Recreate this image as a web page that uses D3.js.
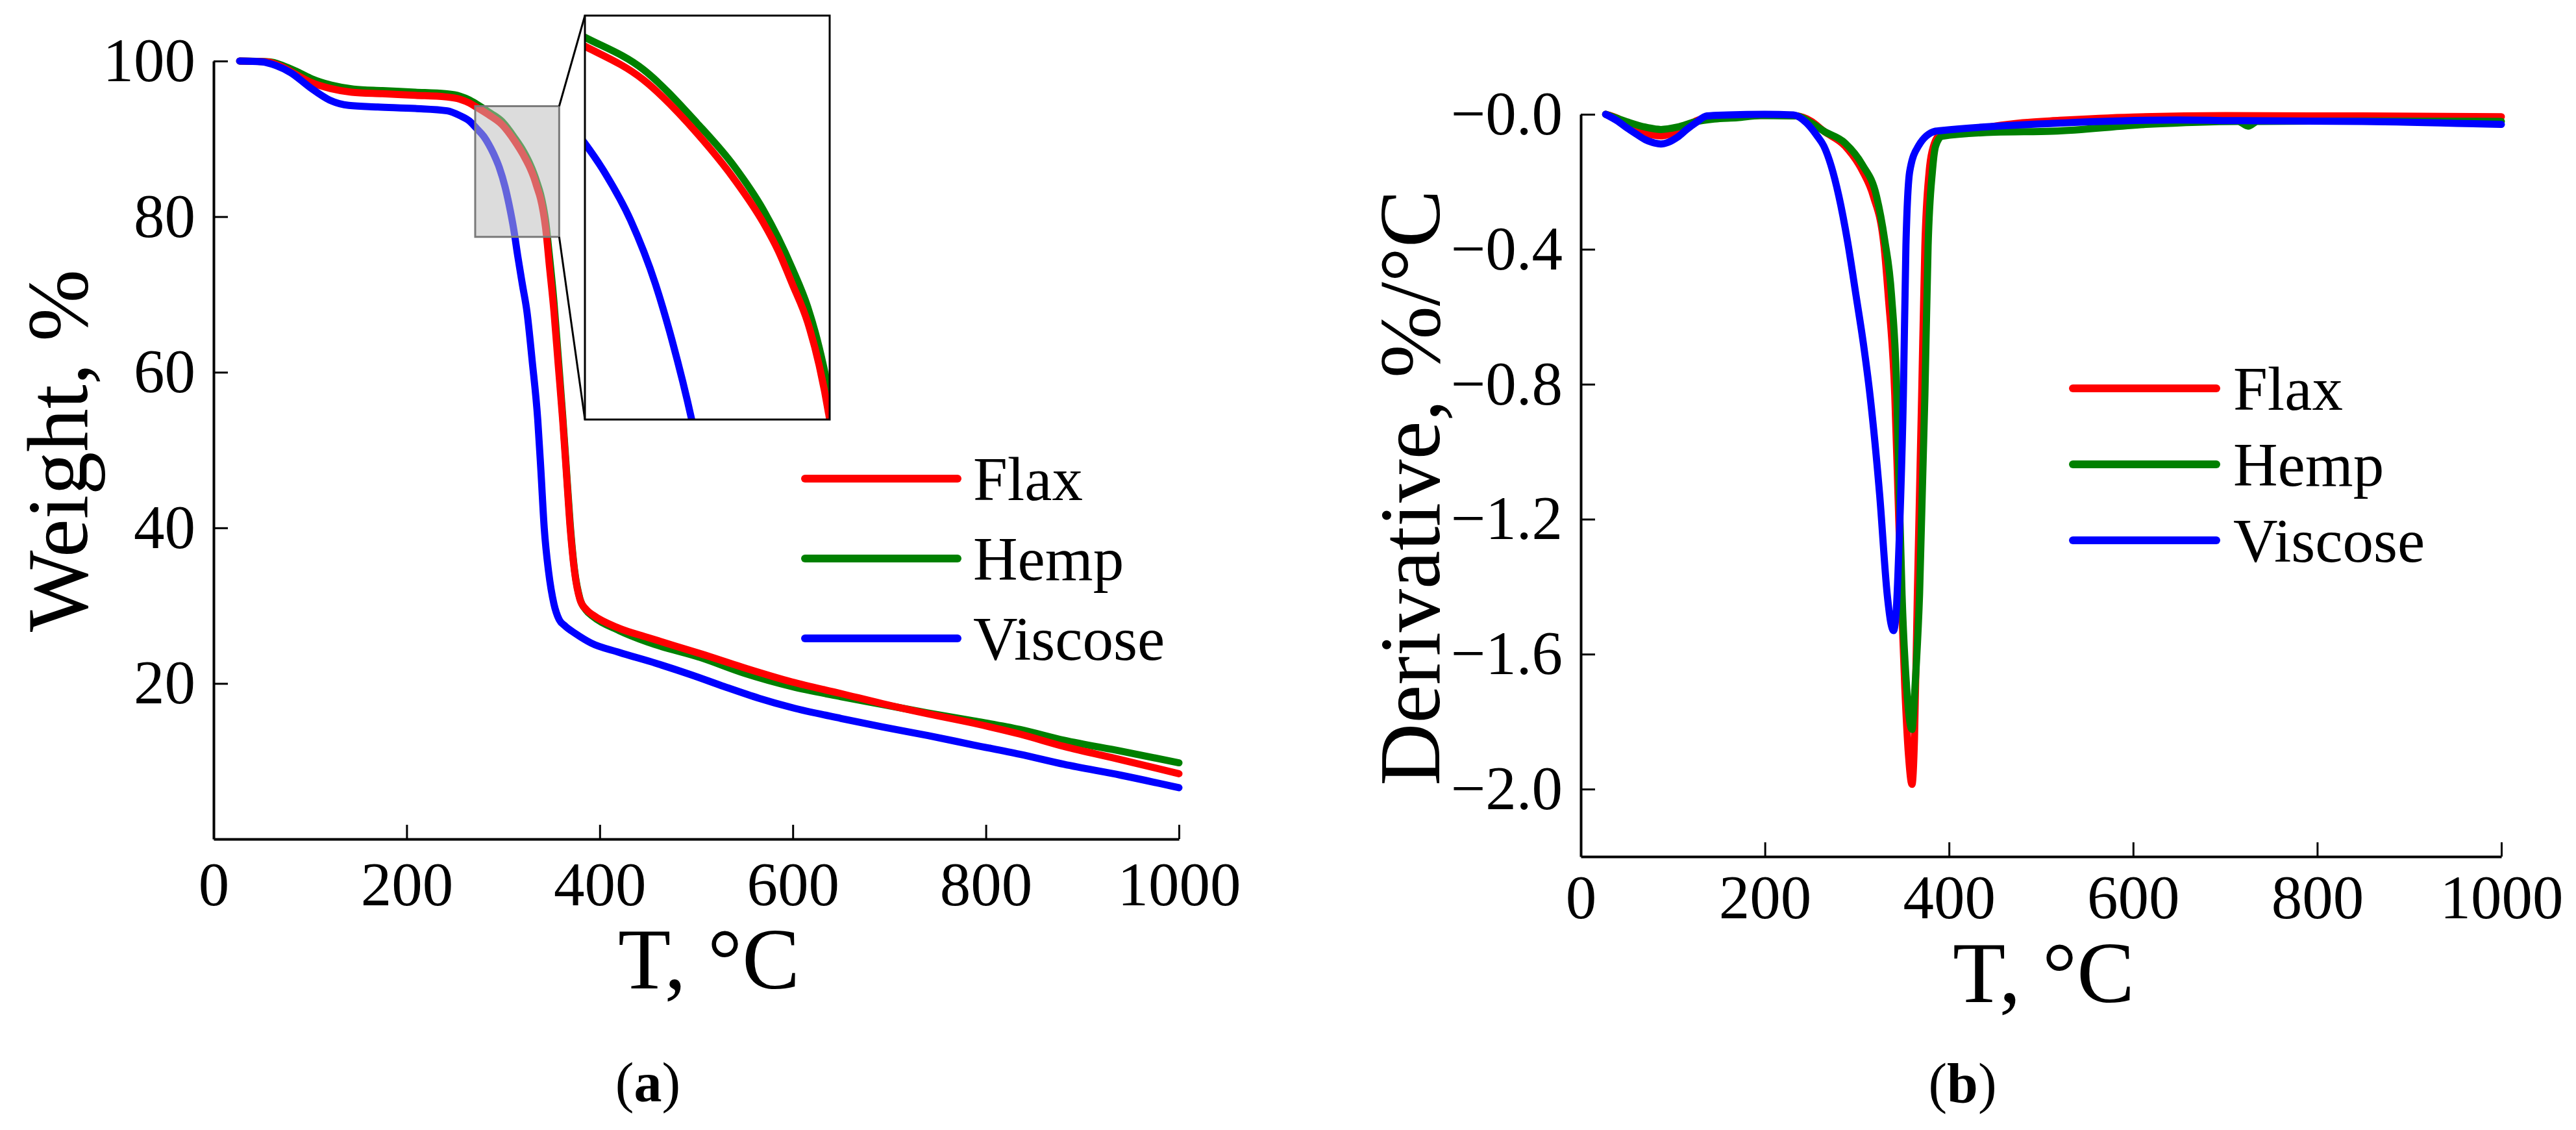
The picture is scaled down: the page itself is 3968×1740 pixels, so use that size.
<!DOCTYPE html>
<html>
<head>
<meta charset="utf-8">
<style>
body { margin: 0; background: #fff; }
svg { display: block; background: #fff; }
svg text { font-family: "Liberation Serif", "Times New Roman", "DejaVu Serif", serif; fill: #000; }
.axis .domain { stroke: #000; stroke-width: 4; }
.axis .tick line { stroke: #000; stroke-width: 3; }
.axis .tick text { font-size: 95px; }
.title { font-size: 133px; }
.legend text { font-size: 95px; }
.curve { fill: none; stroke-width: 11; stroke-linejoin: round; stroke-linecap: round; }
</style>
</head>
<body>
<svg id="chart" width="3968" height="1740"></svg>
<script src="https://cdnjs.cloudflare.com/ajax/libs/d3/7.8.5/d3.min.js"></script>
<script>
// ---- data ----
var series = ['Flax', 'Hemp', 'Viscose']
var colors = ['#ff0000', '#008000', '#0000ff']

// (a) weight %, [T, W]
var flaxWeight = [[27,100],[55,99.9],[70,99.3],[85,98.3],[100,97.3],[120,96.5],[143,96.0],[175,95.8],[209,95.6],
  [240,95.4],[255,95.1],[265,94.6],[272,94.1],[285,93.1],[299,91.8],[312,89.7],[321,87.9],[328,86.2],[331.6,85.1],
  [335,83.8],[338.7,82.3],[341.5,80.6],[344,78.5],[348,73.5],[352.6,67.8],[357,61],[361.6,53.9],[365.5,47],
  [369.4,40],[373.9,34.4],[379.5,30.8],[386,29.5],[393,28.8],[420,27.1],[450,25.9],[505,23.8],[550,22.0],
  [599,20.2],[650,18.7],[693,17.4],[740,16.1],[787,14.9],[835,13.5],[881,11.9],[940,10.2],[1000,8.4]]
var hempWeight = [[27,100],[58,99.9],[72,99.4],[87,98.6],[102,97.7],[122,96.9],[145,96.4],[175,96.2],[209,96.0],
  [240,95.8],[255,95.5],[265,95.0],[272,94.5],[285,93.45],[299,92.2],[312,90.1],[321,88.4],[328,86.7],[331.6,85.6],
  [335,84.4],[338.7,82.9],[341.5,81.3],[344,79.4],[347,76],[352.6,69],[357,62],[361.6,54.5],[365.5,47.5],
  [369.4,40.5],[373.9,34.6],[379.5,30.9],[386,29.4],[393,28.6],[420,26.8],[450,25.3],[505,23.3],[550,21.3],
  [599,19.6],[650,18.3],[693,17.3],[740,16.2],[787,15.2],[835,14.1],[881,12.7],[940,11.3],[1000,9.8]]
var viscoseWeight = [[27,100],[50,99.9],[65,99.4],[80,98.5],[100,96.6],[120,95.0],[140,94.3],[170,94.1],[209,93.9],
  [242,93.6],[255,93.0],[265,92.3],[272,91.4],[280,90.3],[285,89.3],[290,88.1],[296,86.3],[302,83.8],[306,81.6],
  [311,78.3],[315,75],[320,71.2],[324.6,67.8],[330,61.5],[335.8,53.9],[339,47.5],[342.5,40],[347,34.4],
  [352.6,30.2],[358,28.2],[364,27.4],[375,26.4],[391,25.2],[420,24.0],[458,22.6],[495,21.1],[529,19.6],
  [565,18.1],[599,16.9],[650,15.5],[693,14.4],[740,13.3],[787,12.1],[835,10.9],[881,9.6],[940,8.2],[1000,6.6]]

// (b) derivative %/°C, [T, D]
var flaxDeriv = [[27,0],[40,-0.012],[50,-0.03],[60,-0.045],[70,-0.056],[80,-0.062],[87,-0.064],[95,-0.06],
  [105,-0.05],[115,-0.035],[125,-0.02],[137,-0.01],[160,-0.008],[185,-0.004],[210,-0.003],[234,-0.005],
  [250,-0.02],[264,-0.05],[287,-0.094],[306,-0.168],[317.7,-0.242],[329.4,-0.39],[334,-0.538],[341.1,-0.833],
  [344.6,-1.129],[348.1,-1.424],[352,-1.7],[356,-1.9],[359.8,-1.986],[362.5,-1.85],[365.6,-1.424],[370.3,-0.833],
  [373.8,-0.39],[378.5,-0.168],[383.2,-0.094],[390,-0.062],[420,-0.05],[450,-0.035],[480,-0.025],[520,-0.018],
  [600,-0.008],[700,-0.004],[850,-0.005],[1000,-0.007]]
var hempDeriv = [[27,0],[50,-0.022],[70,-0.038],[87,-0.045],[105,-0.038],[125,-0.022],[145,-0.014],[170,-0.01],
  [195,-0.004],[234,-0.005],[250,-0.025],[264,-0.05],[287,-0.085],[306,-0.15],[321.2,-0.242],[330,-0.37],
  [337.6,-0.538],[343.4,-0.833],[346,-1.129],[349,-1.424],[354,-1.7],[359.8,-1.823],[363,-1.7],[368,-1.424],
  [373.8,-0.833],[377.3,-0.39],[382,-0.168],[385.5,-0.094],[392.5,-0.065],[450,-0.053],[513,-0.05],[614,-0.03],
  [714,-0.021],[725,-0.035],[735,-0.021],[850,-0.02],[1000,-0.021]]
var viscoseDeriv = [[27,0],[40,-0.02],[50,-0.04],[60,-0.058],[70,-0.075],[80,-0.085],[87,-0.088],[95,-0.083],
  [105,-0.068],[115,-0.045],[125,-0.025],[137,-0.005],[160,-0.002],[200,0],[231,-0.002],[245,-0.025],
  [257,-0.065],[264,-0.094],[280.3,-0.242],[290,-0.38],[299,-0.537],[307,-0.68],[314.2,-0.833],[324.7,-1.129],
  [332.9,-1.424],[337,-1.51],[339.7,-1.53],[342.5,-1.48],[345.7,-1.277],[350.4,-0.833],[353.2,-0.39],
  [357.4,-0.168],[366.8,-0.094],[385.5,-0.05],[392,-0.048],[513,-0.027],[647,-0.017],[715,-0.019],
  [849,-0.021],[1000,-0.03]]

var tempTicks = [0, 200, 400, 600, 800, 1000]
var weightTicks = [20, 40, 60, 80, 100]
var derivTicks = [0, -0.4, -0.8, -1.2, -1.6, -2.0]
var zoomBox = {t0: 271, t1: 358, w0: 77.4, w1: 94.2}     // grey box on the main plot
var insetDomain = {t0: 285, t1: 344, w0: 78.5, w1: 94.3} // what the inset shows

var FONT = '"Liberation Serif", "Times New Roman", "DejaVu Serif", serif'
var svg = d3.select('#chart')

function styleAxis(g) {
  g.attr('font-family', FONT).attr('font-size', 95)
  g.selectAll('text').attr('font-family', FONT)
}

// ---- panel (a) ----
var xL = d3.scaleLinear().domain([0, 1000]).range([329, 1816])
var yL = d3.scaleLinear().domain([0, 100]).range([1292, 94])

svg.append('g').attr('class', 'axis')
  .attr('transform', 'translate(0,' + yL(0) + ')')
  .call(d3.axisBottom(xL).tickValues(tempTicks).tickFormat(d3.format('d'))
    .tickSizeInner(-22).tickSizeOuter(0).tickPadding(35))
  .call(styleAxis)
svg.append('g').attr('class', 'axis')
  .attr('transform', 'translate(' + xL(0) + ',0)')
  .call(d3.axisLeft(yL).tickValues(weightTicks).tickFormat(d3.format('d'))
    .tickSizeInner(-22).tickSizeOuter(0).tickPadding(28))
  .call(styleAxis)

var weightData = [flaxWeight, hempWeight, viscoseWeight]
var lineL = d3.line().x(d => xL(d[0])).y(d => yL(d[1])).curve(d3.curveMonotoneX)
;[1, 0, 2].forEach(function(i) {
  svg.append('path').attr('class', 'curve')
    .attr('d', lineL(weightData[i])).style('stroke', colors[i])
})

// grey zoom box
var bx0 = xL(zoomBox.t0), bx1 = xL(zoomBox.t1), by0 = yL(zoomBox.w1), by1 = yL(zoomBox.w0)
svg.append('rect')
  .attr('x', bx0).attr('y', by0).attr('width', bx1 - bx0).attr('height', by1 - by0)
  .style('fill', 'rgb(189,189,189)').style('fill-opacity', 0.53)
  .style('stroke', '#7a7a7a').style('stroke-width', 3)

// inset
var inset = {left: 901, right: 1278, top: 24, bottom: 646}
var xI = d3.scaleLinear().domain([insetDomain.t0, insetDomain.t1]).range([inset.left, inset.right])
var yI = d3.scaleLinear().domain([insetDomain.w0, insetDomain.w1]).range([inset.bottom, inset.top])

svg.append('line').attr('x1', bx1).attr('y1', by0).attr('x2', inset.left).attr('y2', inset.top)
  .style('stroke', '#000').style('stroke-width', 3)
svg.append('line').attr('x1', bx1).attr('y1', by1).attr('x2', inset.left).attr('y2', inset.bottom)
  .style('stroke', '#000').style('stroke-width', 3)

svg.append('clipPath').attr('id', 'insetClip').append('rect')
  .attr('x', inset.left).attr('y', inset.top)
  .attr('width', inset.right - inset.left).attr('height', inset.bottom - inset.top)
svg.append('rect')
  .attr('x', inset.left).attr('y', inset.top)
  .attr('width', inset.right - inset.left).attr('height', inset.bottom - inset.top)
  .style('fill', '#fff')
var lineI = d3.line().x(d => xI(d[0])).y(d => yI(d[1])).curve(d3.curveMonotoneX)
var insetG = svg.append('g').attr('clip-path', 'url(#insetClip)')
;[1, 0, 2].forEach(function(i) {
  insetG.append('path').attr('class', 'curve')
    .attr('d', lineI(weightData[i])).style('stroke', colors[i])
})
svg.append('rect')
  .attr('x', inset.left).attr('y', inset.top)
  .attr('width', inset.right - inset.left).attr('height', inset.bottom - inset.top)
  .style('fill', 'none').style('stroke', '#000').style('stroke-width', 3)

// legend (a)
var legA = svg.append('g').attr('class', 'legend')
series.forEach(function(s, i) {
  var y = 737 + i * 123
  legA.append('line').attr('x1', 1240).attr('x2', 1475).attr('y1', y).attr('y2', y)
    .style('stroke', colors[i]).style('stroke-width', 12).style('stroke-linecap', 'round')
  legA.append('text').attr('x', 1499).attr('y', y).attr('dy', '0.35em')
    .attr('font-family', FONT).text(s)
})

svg.append('text').attr('class', 'title').attr('font-family', FONT)
  .attr('transform', 'translate(134,694) rotate(-90)')
  .attr('text-anchor', 'middle').text('Weight, %')
svg.append('text').attr('class', 'title').attr('font-family', FONT)
  .attr('x', 1092).attr('y', 1522).attr('text-anchor', 'middle').text('T, °C')
svg.append('text').attr('x', 998).attr('y', 1696).attr('text-anchor', 'middle')
  .attr('font-family', FONT).style('font-size', '86px')
  .html('(<tspan style="font-weight:bold">a</tspan>)')

// ---- panel (b) ----
var xR = d3.scaleLinear().domain([0, 1000]).range([2435, 3853])
var yR = d3.scaleLinear().domain([-2.2, 0]).range([1319, 176])

svg.append('g').attr('class', 'axis')
  .attr('transform', 'translate(0,' + yR(-2.2) + ')')
  .call(d3.axisBottom(xR).tickValues(tempTicks).tickFormat(d3.format('d'))
    .tickSizeInner(-22).tickSizeOuter(0).tickPadding(28))
  .call(styleAxis)
svg.append('g').attr('class', 'axis')
  .attr('transform', 'translate(' + xR(0) + ',0)')
  .call(d3.axisLeft(yR).tickValues(derivTicks).tickSizeInner(-22).tickSizeOuter(0).tickPadding(28)
    .tickFormat(d => '\u2212' + Math.abs(d).toFixed(1)))
  .call(styleAxis)

var derivData = [flaxDeriv, hempDeriv, viscoseDeriv]
var lineR = d3.line().x(d => xR(d[0])).y(d => yR(d[1])).curve(d3.curveMonotoneX)
;[0, 1, 2].forEach(function(i) {
  svg.append('path').attr('class', 'curve')
    .attr('d', lineR(derivData[i])).style('stroke', colors[i])
})

var legB = svg.append('g').attr('class', 'legend')
series.forEach(function(s, i) {
  var y = 598 + i * 117
  legB.append('line').attr('x1', 3193).attr('x2', 3414).attr('y1', y).attr('y2', y)
    .style('stroke', colors[i]).style('stroke-width', 12).style('stroke-linecap', 'round')
  legB.append('text').attr('x', 3440).attr('y', y).attr('dy', '0.35em')
    .attr('font-family', FONT).text(s)
})

svg.append('text').attr('class', 'title').attr('font-family', FONT)
  .attr('transform', 'translate(2217,751) rotate(-90)')
  .attr('text-anchor', 'middle').text('Derivative, %/°C')
svg.append('text').attr('class', 'title').attr('font-family', FONT)
  .attr('x', 3148).attr('y', 1543).attr('text-anchor', 'middle').text('T, °C')
svg.append('text').attr('x', 3023).attr('y', 1697).attr('text-anchor', 'middle')
  .attr('font-family', FONT).style('font-size', '86px')
  .html('(<tspan style="font-weight:bold">b</tspan>)')
</script>
</body>
</html>
